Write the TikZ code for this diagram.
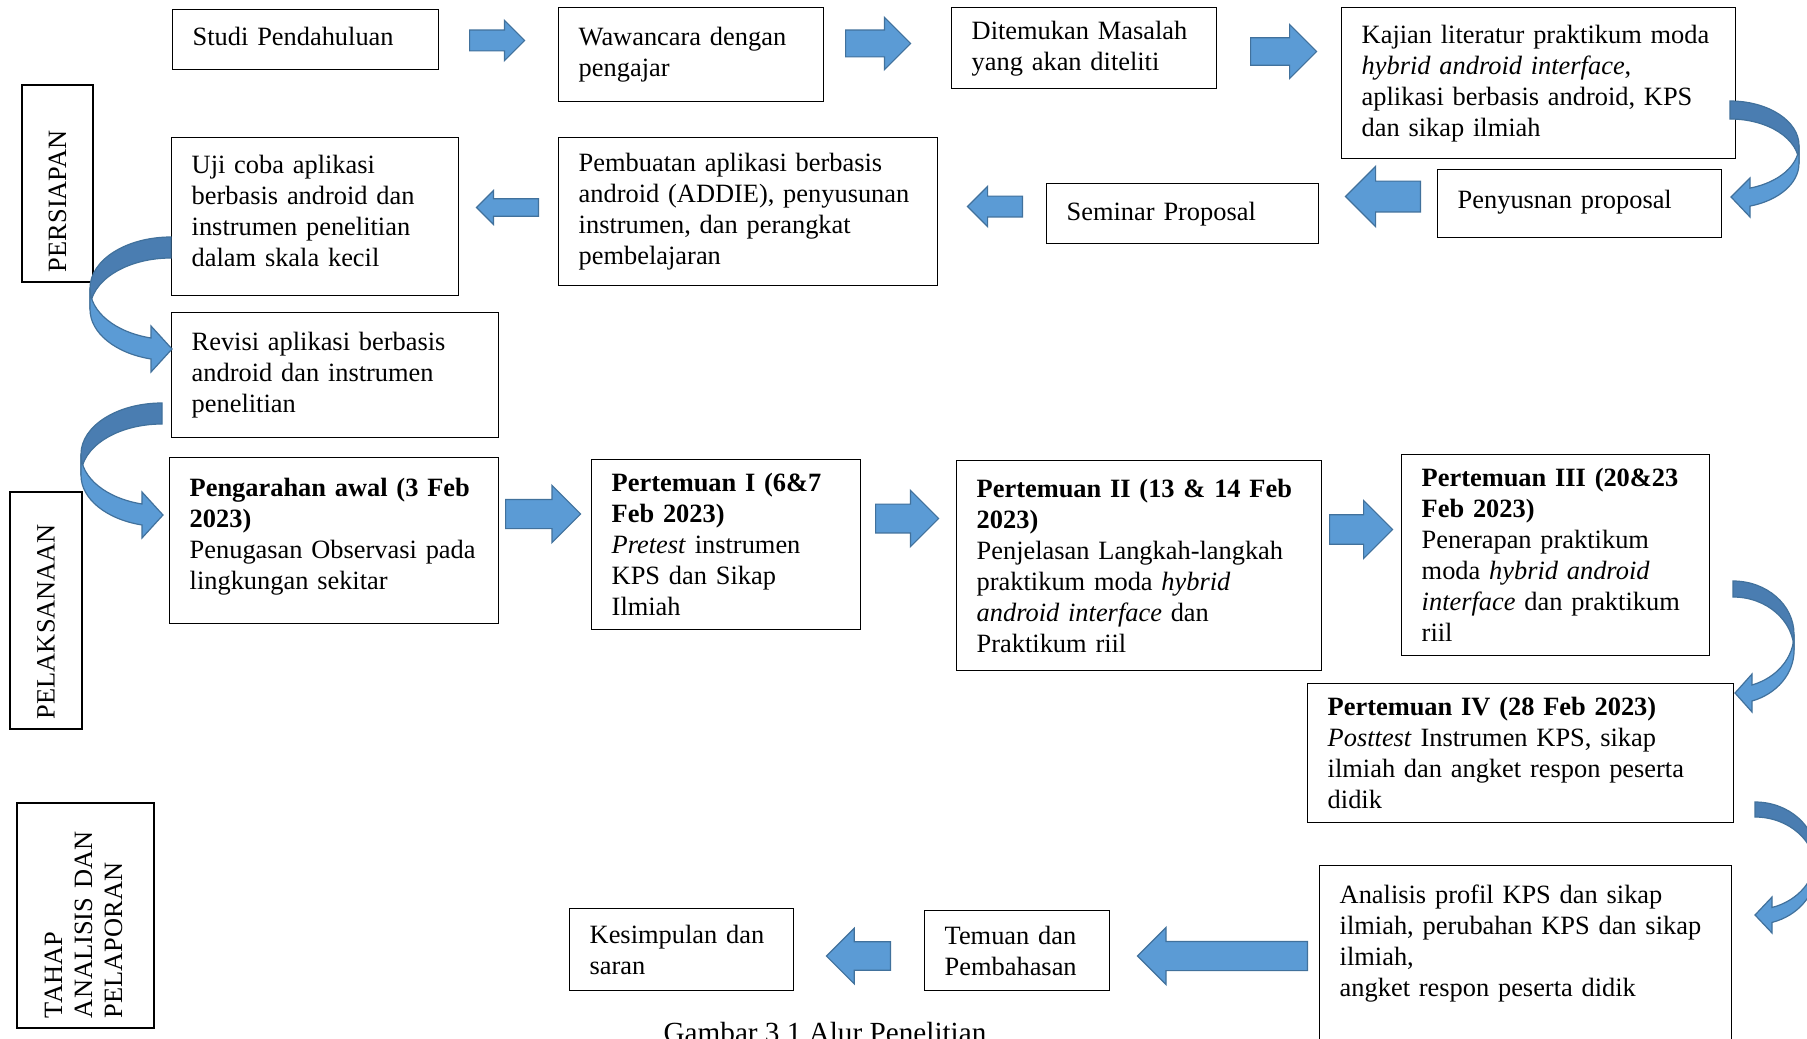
\documentclass[tikz,border=0pt]{standalone}
\usepackage{fontspec}
\setmainfont{Liberation Serif}
\usepackage{xcolor}
\usetikzlibrary{shapes.arrows}
\definecolor{biru}{HTML}{5B9BD5}
\definecolor{birutua}{HTML}{41719C}
\definecolor{birugelap}{HTML}{4A7DB1}
\newcommand{\geser}[1]{\rule[-#1]{0pt}{#1}}

\begin{document}
\begin{tikzpicture}[x=0.5pt, y=-0.5pt,
  kotak/.style={draw, rectangle, line width=0.7pt, anchor=north west, align=left, inner xsep=10pt, font=\fontsize{13.2}{15.5}\selectfont},
  tahap/.style={draw, rectangle, line width=0.7pt, rotate=90, align=left, inner xsep=5pt, font=\fontsize{13.2}{15}\selectfont},
  panah/.style={single arrow, draw=birutua, fill=biru, line width=0.6pt, inner xsep=0pt, inner ysep=#1, single arrow head extend=#1, anchor=tail},
  lengkungtua/.style={fill=birugelap, draw=birutua, line width=0.6pt},
  lengkungmuda/.style={fill=biru, draw=birutua, line width=0.6pt}]
\useasboundingbox (0,0) rectangle (1807,1038);
\fill[white] (0,0) rectangle (1807,1038);

% Tahap penelitian
\node[tahap, text width=88.5pt, minimum height=35.5pt] (persiapan) at (57.5,183.5) {PERSIAPAN};
\node[tahap, text width=108.5pt, minimum height=36pt] (pelaksanaan) at (46,610.5) {PELAKSANAAN};
\node[tahap, text width=102.5pt, minimum height=68.5pt] (analisislapor) at (85.5,915.5) {TAHAP\\ANALISIS DAN\\PELAPORAN\geser{2pt}};

% Persiapan
\node[kotak, text width=113pt, minimum height=30pt] (studi) at (172,9) {Studi Pendahuluan\geser{3pt}};
\node[kotak, text width=112.5pt, minimum height=47pt] (wawancara) at (558,7) {Wawancara dengan\\pengajar\geser{2pt}};
\node[kotak, text width=112.5pt, minimum height=40.5pt] (ditemukan) at (951,7) {Ditemukan~Masalah\\yang akan diteliti};
\node[kotak, text width=177pt, minimum height=75.5pt] (kajian) at (1341,7) {Kajian literatur praktikum moda\\\textit{hybrid android interface},\\aplikasi berbasis android, KPS\\dan sikap ilmiah\geser{2pt}};
\node[kotak, text width=122pt, minimum height=34pt] (penyusnan) at (1437,169) {Penyusnan proposal\geser{4pt}};
\node[kotak, text width=116pt, minimum height=30pt] (seminar) at (1046,183) {Seminar Proposal};
\node[kotak, text width=169.5pt, minimum height=74pt] (pembuatan) at (558,137) {Pembuatan aplikasi berbasis\\android (ADDIE), penyusunan\\instrumen, dan perangkat\\pembelajaran};
\node[kotak, text width=123.5pt, minimum height=79pt] (ujicoba) at (171,137) {Uji coba aplikasi\\berbasis android dan\\instrumen penelitian\\dalam skala kecil\geser{6pt}};
\node[kotak, text width=143.5pt, minimum height=62.5pt] (revisi) at (171,312) {Revisi aplikasi berbasis\\android dan instrumen\\penelitian\geser{2pt}};

% Pelaksanaan
\node[kotak, text width=144.5pt, minimum height=83pt] (pengarahan) at (169,457) {\textbf{Pengarahan awal (3 Feb}\\\textbf{2023)}\\Penugasan~Observasi~pada\\lingkungan sekitar\geser{7pt}};
\node[kotak, text width=114.5pt, minimum height=85pt] (pertemuan1) at (591,459) {\textbf{Pertemuan I (6\&7}\\\textbf{Feb 2023)}\\\textit{Pretest} instrumen\\KPS dan Sikap\\Ilmiah};
\node[kotak, text width=162.5pt, minimum height=105pt] (pertemuan2) at (956,460) {\textbf{Pertemuan II (13 \& 14 Feb}\\\textbf{2023)}\\Penjelasan Langkah-langkah\\praktikum moda \textit{hybrid}\\\textit{android interface} dan\\Praktikum riil};
\node[kotak, text width=134pt, minimum height=100.5pt] (pertemuan3) at (1401,454) {\textbf{Pertemuan III (20\&23}\\\textbf{Feb 2023)}\\Penerapan praktikum\\moda \textit{hybrid android}\\\textit{interface} dan praktikum\\riil};
\node[kotak, text width=193pt, minimum height=69.5pt] (pertemuan4) at (1307,683) {\textbf{Pertemuan IV (28 Feb 2023)}\\\textit{Posttest} Instrumen KPS, sikap\\ilmiah dan angket respon peserta\\didik};

% Analisis dan pelaporan
\node[kotak, text width=186pt, inner ysep=9.4pt] (analisis) at (1319,865) {Analisis profil KPS dan sikap\\ilmiah, perubahan KPS dan sikap\\ilmiah,\\angket respon peserta didik\geser{40pt}};
\node[kotak, text width=72.5pt, minimum height=40pt] (temuan) at (924,910) {Temuan dan\\Pembahasan};
\node[kotak, text width=92pt, minimum height=41pt] (kesimpulan) at (569,908) {Kesimpulan dan\\saran};

\node[font=\fontsize{14.6}{17}\selectfont, anchor=base] (judul) at (825,1042) {Gambar 3.1 Alur Penelitian};

% Panah blok
\node[panah=4.9pt, minimum height=27.5pt] (p1) at (469,40.5) {};
\node[panah=6.4pt, minimum height=32.5pt] (p2) at (845,43.5) {};
\node[panah=6.6pt, minimum height=33pt] (p3) at (1250,51.5) {};
\node[panah=7.4pt, shape border rotate=180, minimum height=37.5pt] (p4) at (1421,196.5) {};
\node[panah=4.9pt, shape border rotate=180, minimum height=27.5pt] (p5) at (1023,206.5) {};
\node[panah=4.1pt, shape border rotate=180, minimum height=31pt] (p6) at (539,207.5) {};
\node[panah=7pt, minimum height=37.5pt] (p7) at (505,514) {};
\node[panah=6.9pt, minimum height=31.5pt] (p8) at (875,518.5) {};
\node[panah=7.1pt, minimum height=31.5pt] (p9) at (1329,529.5) {};
\node[panah=7pt, shape border rotate=180, minimum height=85pt] (p10) at (1308,956) {};
\node[panah=6.8pt, shape border rotate=180, minimum height=32pt] (p11) at (891,956) {};

% Panah lengkung
\filldraw[lengkungtua] (1730,101) arc[start angle=-90, end angle=0, x radius=69, y radius=44.5] -- (1799,163.5) arc[start angle=0, end angle=-90, x radius=69, y radius=44.5] -- cycle;
\filldraw[lengkungmuda] (1799,145.5) arc[start angle=0, end angle=73.1, x radius=69, y radius=44.5] -- (1750,178) -- (1731,197) -- (1750,217) -- (1750,206.1) arc[start angle=73.1, end angle=0, x radius=69, y radius=44.5] -- cycle;

\filldraw[lengkungtua] (171,237) arc[start angle=270, end angle=180, x radius=81, y radius=51.3] -- (90,309.3) arc[start angle=180, end angle=270, x radius=81, y radius=51.3] -- cycle;
\filldraw[lengkungmuda] (90,288.3) arc[start angle=180, end angle=104.3, x radius=81, y radius=51.3] -- (151,326) -- (172,349) -- (151,372) -- (151,359) arc[start angle=104.3, end angle=180, x radius=81, y radius=51.3] -- cycle;

\filldraw[lengkungtua] (162,403) arc[start angle=270, end angle=180, x radius=81, y radius=51.3] -- (81,475.3) arc[start angle=180, end angle=270, x radius=81, y radius=51.3] -- cycle;
\filldraw[lengkungmuda] (81,454.3) arc[start angle=180, end angle=104.3, x radius=81, y radius=51.3] -- (142,492) -- (163,515) -- (142,538) -- (142,525) arc[start angle=104.3, end angle=180, x radius=81, y radius=51.3] -- cycle;

\filldraw[lengkungtua] (1733,581) arc[start angle=-90, end angle=0, x radius=61, y radius=53.3] -- (1794,650.3) arc[start angle=0, end angle=-90, x radius=61, y radius=53.3] -- cycle;
\filldraw[lengkungmuda] (1794,634.3) arc[start angle=0, end angle=71.9, x radius=61, y radius=53.3] -- (1752,674) -- (1735,693) -- (1752,712) -- (1752,701) arc[start angle=71.9, end angle=0, x radius=61, y radius=53.3] -- cycle;

\filldraw[lengkungtua] (1755,802) arc[start angle=-90, end angle=0, x radius=61, y radius=53.8] -- (1816,870.8) arc[start angle=0, end angle=-90, x radius=61, y radius=53.8] -- cycle;
\filldraw[lengkungmuda] (1816,855.8) arc[start angle=0, end angle=73.8, x radius=61, y radius=53.8] -- (1772,897) -- (1755,915) -- (1772,933) -- (1772,922.4) arc[start angle=73.8, end angle=0, x radius=61, y radius=53.8] -- cycle;

\end{tikzpicture}
\end{document}
